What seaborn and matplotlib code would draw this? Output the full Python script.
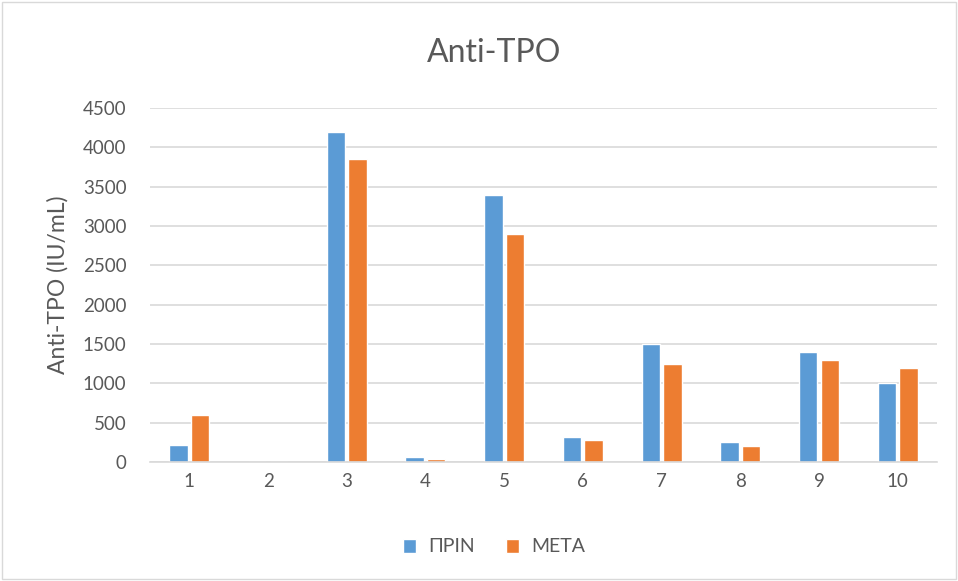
import matplotlib
matplotlib.use("Agg")
import matplotlib.pyplot as plt
import seaborn as sns
import pandas as pd
from matplotlib.patches import Rectangle

categories = ["1", "2", "3", "4", "5", "6", "7", "8", "9", "10"]
prin = [220, 0, 4200, 60, 3400, 320, 1500, 250, 1400, 1000]
meta = [600, 5, 3850, 35, 2900, 280, 1250, 200, 1300, 1200]
series_names = ["ΠΡΙΝ", "ΜΕΤΑ"]
colors = ["#5B9BD5", "#ED7D31"]

df = pd.DataFrame({
    "cat": categories * 2,
    "value": prin + meta,
    "series": [series_names[0]] * len(categories) + [series_names[1]] * len(categories),
})

sns.set_theme(style="white")
plt.rcParams["font.family"] = ["Lato", "DejaVu Sans"]
text_color = "#595959"

fig = plt.figure(figsize=(9.58, 5.81), dpi=100)
ax = fig.add_axes([150/958, (581-462)/581, (937-150)/958, (462-108)/581])

sns.barplot(data=df, x="cat", y="value", hue="series", order=categories,
            hue_order=series_names, palette=colors, width=0.55, gap=0.15,
            saturation=1, ax=ax, legend=True)

ax.set_ylim(0, 4500)
ax.set_yticks(range(0, 4501, 500))
ax.yaxis.grid(True, color="#D9D9D9", linewidth=1.2)
ax.set_axisbelow(True)
for s in ["top", "right", "left"]:
    ax.spines[s].set_visible(False)
ax.spines["bottom"].set_color("#D9D9D9")
ax.spines["bottom"].set_linewidth(1.2)
ax.tick_params(axis="both", length=0, labelsize=13.5, colors=text_color)
ax.tick_params(axis="x", pad=8)
ax.tick_params(axis="y", pad=17)
ax.set_xlabel("")
ax.set_ylabel("")
fig.text(58/958, 1 - 285/581, "Anti-TPO (IU/mL)", rotation=90, ha="center", va="center",
         fontsize=16.5, color=text_color)
fig.text(494/958, 1 - 53/581, "Anti-TPO", ha="center", va="center", fontsize=23, color=text_color)

leg = ax.legend(loc="center", bbox_to_anchor=(494/958, 1 - 547/581),
                bbox_transform=fig.transFigure, ncol=2, frameon=False,
                fontsize=14, handlelength=0.7, handleheight=0.7, columnspacing=1.6,
                handletextpad=0.6, labelcolor=text_color)

fig.patches.append(Rectangle((2/958, 2/581), 954/958, 577/581, transform=fig.transFigure,
                             fill=False, edgecolor="#D9D9D9", linewidth=1))

fig.savefig("out.png", dpi=100)
